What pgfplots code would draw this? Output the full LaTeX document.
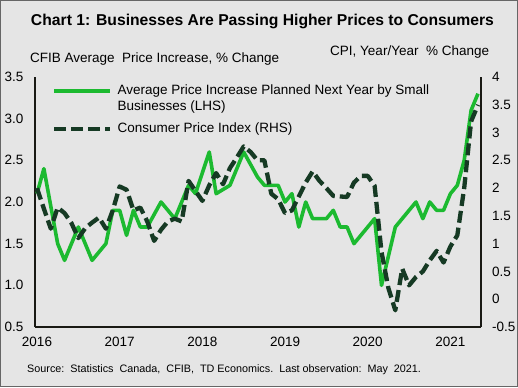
\documentclass[border=0pt]{standalone}
\usepackage{fontspec}
\setmainfont{Liberation Sans}
\usepackage{pgfplots}
\pgfplotsset{compat=1.18}
\usepackage{pgfplotstable}

\definecolor{bg}{RGB}{229,229,229}
\definecolor{cfib}{RGB}{28,186,48}
\definecolor{cpi}{RGB}{22,58,36}
\definecolor{axc}{RGB}{25,25,20}

% month index 0 = Jan 2016 ... 64 = May 2021
\pgfplotstableread{
m v
0 2.1
1 2.4
2 1.95
3 1.5
4 1.3
5 1.5
6 1.7
7 1.5
8 1.3
9 1.4
10 1.5
11 1.9
12 1.9
13 1.6
14 1.9
15 1.7
16 1.7
17 1.85
18 2.0
19 1.9
20 1.8
21 2.0
22 2.2
23 2.1
24 2.35
25 2.6
26 2.1
27 2.15
28 2.2
29 2.4
30 2.6
31 2.45
32 2.3
33 2.2
34 2.2
35 2.2
36 2.0
37 2.1
38 1.7
39 2.0
40 1.8
41 1.8
42 1.8
43 1.9
44 1.7
45 1.7
46 1.5
47 1.6
48 1.7
49 1.8
50 1.0
51 1.35
52 1.7
53 1.8
54 1.9
55 2.0
56 1.8
57 2.0
58 1.9
59 1.9
60 2.1
61 2.2
62 2.5
63 3.1
64 3.3
}\cfibdata

\pgfplotstableread{
m v
0 2.0
1 1.63
2 1.27
3 1.65
4 1.55
5 1.37
6 1.1
7 1.28
8 1.38
9 1.47
10 1.27
11 1.6
12 2.03
13 1.97
14 1.6
15 1.65
16 1.4
17 1.05
18 1.25
19 1.4
20 1.45
21 1.4
22 2.13
23 1.95
24 1.77
25 2.05
26 2.27
27 2.07
28 2.36
29 2.55
30 2.75
31 2.65
32 2.5
33 2.5
34 1.9
35 1.8
36 1.55
37 1.6
38 1.85
39 2.1
40 2.3
41 2.13
42 2.0
43 1.86
44 1.85
45 1.84
46 2.1
47 2.22
48 2.22
49 2.04
50 0.85
51 0.2
52 -0.2
53 0.55
54 0.25
55 0.4
56 0.5
57 0.7
58 0.87
59 0.66
60 0.95
61 1.15
62 2.0
63 3.2
64 3.5
}\cpidata

\begin{document}
\begin{tikzpicture}[x=1bp,y=1bp]
\useasboundingbox (0,0) rectangle (518,387);
\fill[bg] (0,0) rectangle (518,387);
\draw[black!60, line width=1bp] (0.5,0.5) rectangle (517.5,386.5);

\begin{axis}[
  at={(35bp,60bp)}, anchor=south west,
  width=446bp, height=250bp, scale only axis,
  xmin=-0.29, xmax=64.44, ymin=0.5, ymax=3.5,
  axis x line*=bottom, axis y line*=left,
  axis line style={-, line width=1.3bp, draw=axc},
  xtick={0,12,24,36,48,60},
  xticklabels={2016,2017,2018,2019,2020,2021},
  ytick={0.5,1,1.5,2,2.5,3,3.5},
  major tick length=0pt,
  tick style={draw=none},
  /pgf/number format/assume math mode=true,
  ticklabel style={font=\fontsize{13.5bp}{15bp}\selectfont, inner sep=0pt, text=black},
  xticklabel style={anchor=center, yshift=-15.3bp},
  yticklabel style={anchor=east, xshift=-11.5bp, /pgf/number format/.cd, fixed, fixed zerofill, precision=1, assume math mode=true},
  legend style={at={(axis description cs:0.038,0.968)}, anchor=north west,
    draw=none, fill=none, inner sep=0pt, row sep=26.5bp, column sep=5bp,
    nodes={inner sep=0pt, font=\fontsize{13.5bp}{15.5bp}\selectfont, text=black},
    cells={anchor=base west}},
  legend image code/.code={\draw[#1] (0bp,3.8bp) -- (56bp,3.8bp);},
]
\addplot[cfib, line width=3.6bp, line join=round] table[x=m, y=v] {\cfibdata};
\addlegendentry{\parbox[t]{330bp}{Average Price Increase Planned Next Year by Small\\Businesses (LHS)}}
\addlegendimage{cpi, line width=4.5bp, dash pattern=on 12bp off 5bp}
\addlegendentry{Consumer Price Index (RHS)}
\end{axis}

\begin{axis}[
  at={(35bp,60bp)}, anchor=south west,
  width=446bp, height=250bp, scale only axis,
  xmin=-0.29, xmax=64.44, ymin=-0.5, ymax=4,
  axis x line=none, xtick=\empty,
  axis y line*=right,
  axis line style={-, line width=1.3bp, draw=axc},
  ytick={-0.5,0,0.5,1,1.5,2,2.5,3,3.5,4},
  major tick length=0pt,
  tick style={draw=none},
  /pgf/number format/assume math mode=true,
  ticklabel style={font=\fontsize{13.5bp}{15bp}\selectfont, inner sep=0pt, text=black},
  yticklabel style={anchor=west, xshift=11bp},
]
\addplot[cpi, line width=4.3bp, line join=round, dash pattern=on 12bp off 5bp] table[x=m, y=v] {\cpidata};
\end{axis}

\node[anchor=base, font=\fontsize{15.7bp}{18bp}\selectfont\bfseries, text=black] at (262.5,362) {Chart 1: Businesses Are Passing Higher Prices to Consumers};
\node[anchor=base west, inner sep=0pt, font=\fontsize{13.5bp}{15bp}\selectfont, text=black] at (30,324.5) {CFIB Average\ \ Price Increase, \% Change};
\node[anchor=base west, inner sep=0pt, font=\fontsize{13.5bp}{15bp}\selectfont, text=black] at (330,331.5) {CPI, Year/Year\ \ \% Change};
\node[anchor=base west, inner sep=0pt, font=\fontsize{10.8bp}{12bp}\selectfont, text=black] at (27,15) {Source:\ \ Statistics\ \ Canada,\ \ CFIB,\ \ TD Economics.\ \ Last observation:\ \ May\ \ 2021.};
\end{tikzpicture}
\end{document}
